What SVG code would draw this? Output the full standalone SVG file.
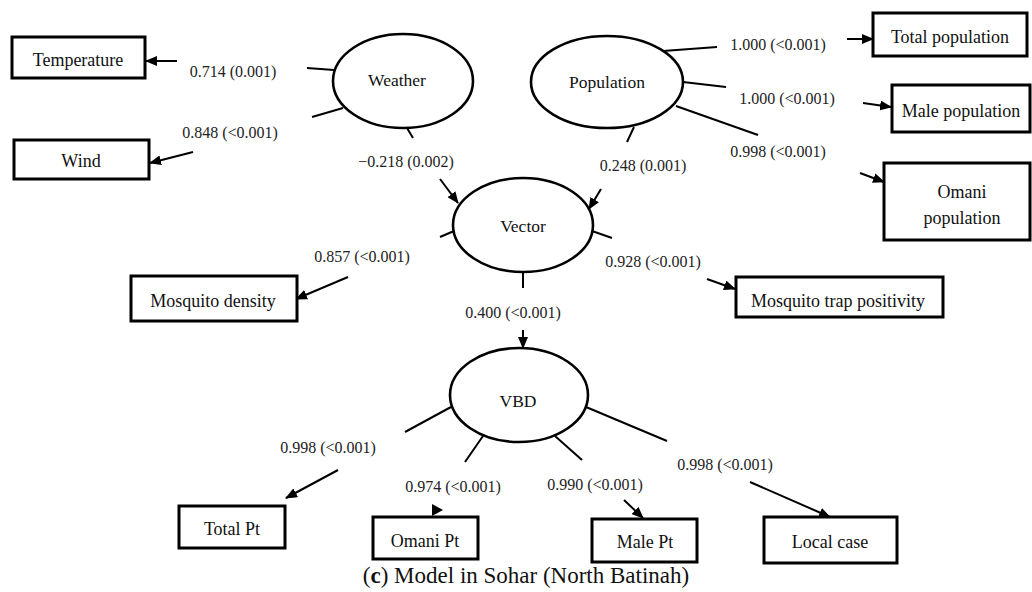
<svg xmlns="http://www.w3.org/2000/svg" width="1032" height="592" viewBox="0 0 1032 592">
<style>
.box{fill:#fff;stroke:#000;stroke-width:3}
.ell{fill:#fff;stroke:#000;stroke-width:2.6}
.bt{font-family:'Liberation Serif','Times New Roman','DejaVu Serif',serif;font-size:18px;fill:#111;text-anchor:middle}
.et{font-family:'Liberation Serif','Times New Roman','DejaVu Serif',serif;font-size:17.5px;fill:#111;text-anchor:middle}
.lb{font-family:'Liberation Serif','Times New Roman','DejaVu Serif',serif;font-size:16px;fill:#222;text-anchor:middle}
.cap{font-family:'Liberation Serif','Times New Roman','DejaVu Serif',serif;font-size:23px;fill:#111;text-anchor:middle}
.ln{stroke:#000;stroke-width:2;fill:none}
.ar{stroke:#000;stroke-width:2;fill:none;marker-end:url(#ah)}
</style>
<defs>
<marker id="ah" markerUnits="userSpaceOnUse" markerWidth="12" markerHeight="10" refX="11" refY="5" orient="auto">
<path d="M0,0 L12,5 L0,10 z" fill="#000"/>
</marker>
</defs>
<rect width="1032" height="592" fill="#fff"/>

<g id="connectors">
<line class="ln" x1="307" y1="68" x2="334" y2="70"/>
<line class="ar" x1="177" y1="61" x2="146" y2="61"/>
<text class="lb" x="233" y="77">0.714 (0.001)</text>
<line class="ln" x1="312" y1="117" x2="343" y2="108"/>
<line class="ar" x1="193" y1="152" x2="150" y2="163"/>
<text class="lb" x="230" y="138">0.848 (&lt;0.001)</text>
<line class="ln" x1="407" y1="128" x2="413" y2="138"/>
<line class="ar" x1="440" y1="179" x2="458" y2="203"/>
<text class="lb" x="406" y="167">−0.218 (0.002)</text>
<line class="ln" x1="634" y1="127" x2="627" y2="142"/>
<line class="ar" x1="601" y1="189" x2="589" y2="209"/>
<text class="lb" x="643" y="171">0.248 (0.001)</text>
<line class="ln" x1="663" y1="51" x2="717" y2="47"/>
<line class="ar" x1="847" y1="39" x2="873" y2="39"/>
<text class="lb" x="778" y="50">1.000 (&lt;0.001)</text>
<line class="ln" x1="683" y1="82" x2="726" y2="87"/>
<line class="ar" x1="863" y1="103" x2="891" y2="107"/>
<text class="lb" x="787" y="104">1.000 (&lt;0.001)</text>
<line class="ln" x1="676" y1="106" x2="758" y2="135"/>
<line class="ar" x1="860" y1="173" x2="884" y2="182"/>
<text class="lb" x="778" y="157">0.998 (&lt;0.001)</text>
<line class="ln" x1="440" y1="237" x2="454" y2="231"/>
<line class="ar" x1="348" y1="277" x2="296" y2="299"/>
<text class="lb" x="362" y="262">0.857 (&lt;0.001)</text>
<line class="ln" x1="592" y1="231" x2="612" y2="238"/>
<line class="ar" x1="707" y1="279" x2="735" y2="289"/>
<text class="lb" x="653" y="267">0.928 (&lt;0.001)</text>
<line class="ln" x1="523" y1="272" x2="523" y2="288"/>
<line class="ar" x1="523" y1="330" x2="523" y2="348"/>
<text class="lb" x="513" y="318">0.400 (&lt;0.001)</text>
<line class="ln" x1="451" y1="407" x2="405" y2="432"/>
<line class="ar" x1="338" y1="470" x2="286" y2="498"/>
<text class="lb" x="328" y="453">0.998 (&lt;0.001)</text>
<line class="ln" x1="483" y1="436" x2="465" y2="462"/>
<polygon points="432,504 443,510 432,516" fill="#000"/>
<text class="lb" x="453" y="492">0.974 (&lt;0.001)</text>
<line class="ln" x1="555" y1="436" x2="582" y2="460"/>
<line class="ar" x1="624" y1="500" x2="643" y2="518"/>
<text class="lb" x="595" y="490">0.990 (&lt;0.001)</text>
<line class="ln" x1="586" y1="407" x2="667" y2="441"/>
<line class="ar" x1="750" y1="482" x2="830" y2="517"/>
<text class="lb" x="725" y="470">0.998 (&lt;0.001)</text>
</g>

<g id="weather"><ellipse class="ell" cx="403" cy="81" rx="70" ry="47"/><text class="et" x="397" y="86">Weather</text></g>
<g id="population"><ellipse class="ell" cx="607" cy="82" rx="76" ry="46"/><text class="et" x="607" y="88">Population</text></g>
<g id="vector"><ellipse class="ell" cx="523" cy="225" rx="70" ry="47"/><text class="et" x="523" y="232">Vector</text></g>
<g id="vbd"><ellipse class="ell" cx="519" cy="395" rx="69" ry="47"/><text class="et" x="518" y="407">VBD</text></g>

<g id="temperature"><rect class="box" x="12" y="37" width="133" height="41"/><text class="bt" x="78" y="66">Temperature</text></g>
<g id="wind"><rect class="box" x="14" y="140" width="135" height="39"/><text class="bt" x="81" y="167">Wind</text></g>
<g id="total-population"><rect class="box" x="873" y="13" width="154" height="43"/><text class="bt" x="950" y="43">Total population</text></g>
<g id="male-population"><rect class="box" x="892" y="85" width="138" height="47"/><text class="bt" x="961" y="117">Male population</text></g>
<g id="omani-population"><rect class="box" x="884" y="163" width="146" height="77"/><text class="bt" x="962" y="198">Omani</text><text class="bt" x="962" y="224">population</text></g>
<g id="mosquito-density"><rect class="box" x="131" y="276" width="166" height="45"/><text class="bt" x="213" y="307">Mosquito density</text></g>
<g id="mosquito-trap"><rect class="box" x="736" y="277" width="207" height="40"/><text class="bt" x="838" y="307">Mosquito trap positivity</text></g>
<g id="total-pt"><rect class="box" x="179" y="506" width="106" height="42"/><text class="bt" x="232" y="535">Total Pt</text></g>
<g id="omani-pt"><rect class="box" x="373" y="517" width="105" height="42"/><text class="bt" x="425" y="547">Omani Pt</text></g>
<g id="male-pt"><rect class="box" x="592" y="519" width="105" height="43"/><text class="bt" x="645" y="548">Male Pt</text></g>
<g id="local-case"><rect class="box" x="764" y="517" width="133" height="46"/><text class="bt" x="830" y="548">Local case</text></g>

<text class="cap" x="526" y="583">(<tspan font-weight="bold">c</tspan>) Model in Sohar (North Batinah)</text>
</svg>
